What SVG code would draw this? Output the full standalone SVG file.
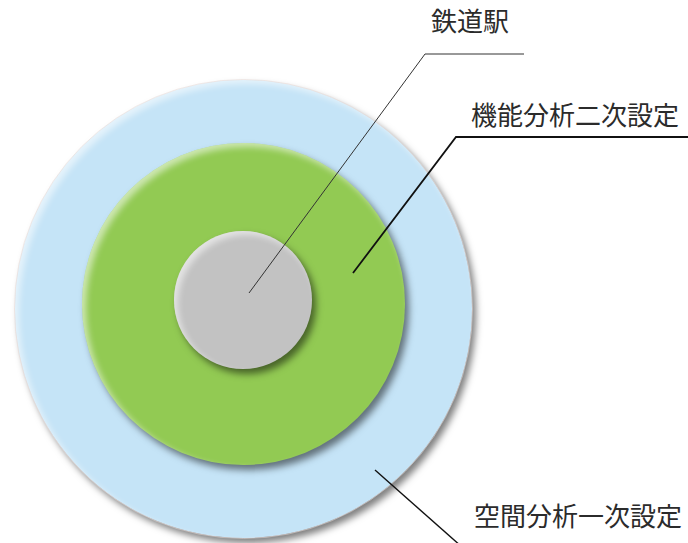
<svg xmlns="http://www.w3.org/2000/svg" width="688" height="543" viewBox="0 0 688 543">
<defs>
<style>
.lbl{font-family:"Noto Sans CJK JP","Noto Sans CJK SC",sans-serif;font-size:26px;fill:#2b2b2b;}
.con{fill:none;stroke-linejoin:miter;}
</style>
<filter id="bev" x="-10%" y="-10%" width="125%" height="125%" color-interpolation-filters="sRGB">
  <feGaussianBlur in="SourceAlpha" stdDeviation="3.5" result="b"/>
  <feOffset in="b" dx="4" dy="5" result="o"/>
  <feFlood flood-color="#000" flood-opacity="0.5"/>
  <feComposite in2="o" operator="in" result="sh"/>
  <feGaussianBlur in="SourceAlpha" stdDeviation="3" result="b2"/>
  <feOffset in="b2" dx="4" dy="4" result="o2"/>
  <feComposite in="SourceAlpha" in2="o2" operator="out" result="rim"/>
  <feFlood flood-color="#fff" flood-opacity="0.55"/>
  <feComposite in2="rim" operator="in" result="hl"/>
  <feMerge><feMergeNode in="sh"/><feMergeNode in="SourceGraphic"/><feMergeNode in="hl"/></feMerge>
</filter>
</defs>
<rect width="688" height="543" fill="#fff"/>
<g id="node-outer">
  <ellipse cx="243.5" cy="309" rx="228.5" ry="229" fill="#C5E4F7" filter="url(#bev)"/>
  <ellipse cx="243.5" cy="309" rx="229" ry="229.5" fill="none" stroke="#e8d9d6" stroke-width="0.8" opacity="0.7"/>
</g>
<g id="node-middle">
  <ellipse cx="243.5" cy="304" rx="161.5" ry="161" fill="#92CA53" filter="url(#bev)"/>
</g>
<g id="node-inner">
  <circle cx="243" cy="300" r="69" fill="#C2C2C2" filter="url(#bev)"/>
</g>
<g id="connectors">
  <polyline class="con" points="249,293 425,54 524,54" stroke="#333" stroke-width="1"/>
  <polyline class="con" points="353,273 456,137 688,137" stroke="#111" stroke-width="1.8"/>
  <polyline class="con" points="375,470 462,547" stroke="#111" stroke-width="1.4"/>
</g>
<g id="labels">
  <text class="lbl" x="431" y="31">鉄道駅</text>
  <text class="lbl" x="471" y="125">機能分析二次設定</text>
  <text class="lbl" x="474" y="526">空間分析一次設定</text>
</g>
</svg>
